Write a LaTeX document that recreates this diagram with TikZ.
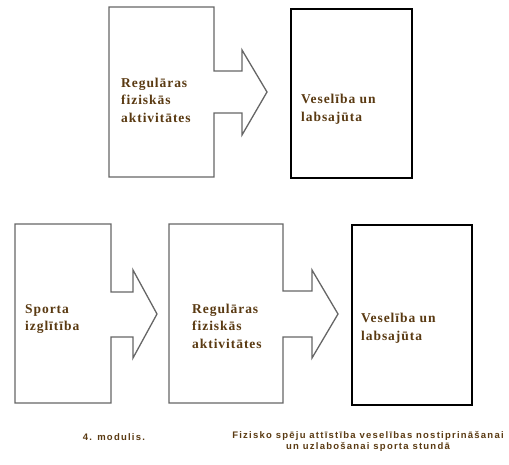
\documentclass[tikz,border=0pt]{standalone}
\usepackage{fontspec}
\setmainfont{Liberation Serif}
\setsansfont{Liberation Sans}
\newfontfamily\boxfont[LetterSpace=7]{Liberation Serif}
\newfontfamily\notefont[LetterSpace=13]{Liberation Sans}
\usepackage{xcolor}
\usetikzlibrary{positioning}
\definecolor{txtbrown}{HTML}{5A3A12}
\tikzset{
    callout/.style={draw=gray!80!black, fill=white, line width=1.3pt, line join=miter}, % rectangle with an arrow on its right
    goal/.style={draw=black, fill=white, line width=1.3pt}, % plain box at the end of a row
    boxtext/.style={text=txtbrown, font=\boxfont\bfseries\fontsize{13.5}{17.5}\selectfont, align=left, anchor=west, inner sep=0pt},
    note/.style={text=txtbrown, font=\notefont\bfseries\fontsize{9.5}{11}\selectfont, align=center, inner sep=0pt},
}

\begin{document}
\begin{tikzpicture}[x=1pt,y=-1pt]
\useasboundingbox (0,0) rectangle (509,464);

% upper row
\draw[callout] (109,7) -- (214,7) -- (214,71) -- (242,71) -- (242,50) -- (267,92)
    -- (242,135) -- (242,113) -- (214,113) -- (214,177) -- (109,177) -- cycle;
\draw[goal] (291,9) rectangle (412,178);
\node[boxtext] (act1) at (121,100) {Regulāras\\fiziskās\\aktivitātes};
\node[boxtext] (health1) at (301,109) {Veselība un\\labsajūta};

% lower row
\draw[callout] (15,224) -- (111,224) -- (111,292) -- (133,292) -- (133,270) -- (157,314)
    -- (133,358) -- (133,337) -- (111,337) -- (111,403) -- (15,403) -- cycle;
\draw[callout] (169,224) -- (283,224) -- (283,291) -- (312,291) -- (312,270) -- (338,314)
    -- (312,358) -- (312,337) -- (283,337) -- (283,403) -- (169,403) -- cycle;
\draw[goal] (352,225) rectangle (472,405);
\node[boxtext] (sport) at (25,319) {Sporta\\izglītība};
\node[boxtext] (act2) at (192,326) {Regulāras\\fiziskās\\aktivitātes};
\node[boxtext] (health2) at (361,328) {Veselība un\\labsajūta};

% captions
\node[note] (module) at (114,437) {4. modulis.};
\node[note] (topic) at (368,441) {Fizisko spēju attīstība veselības nostiprināšanai\\un uzlabošanai sporta stundā};
\end{tikzpicture}
\end{document}
